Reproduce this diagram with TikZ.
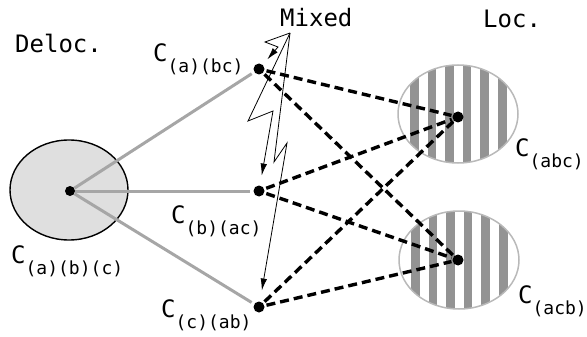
\documentclass[tikz,border=0pt]{standalone}
\usepackage{fontspec}
\newfontfamily\labfont{DejaVu Sans Mono}
\usetikzlibrary{positioning}
\usetikzlibrary{calc}
\usetikzlibrary{arrows.meta}
\usetikzlibrary{shapes.geometric}

\newcommand{\clab}[1]{C\raisebox{-11pt}{\fontsize{18}{18}\selectfont #1}}

\tikzset{
  dot/.style={circle,fill=black,inner sep=0pt,minimum size=11pt},
  grayline/.style={gray!70,line width=3pt,shorten >=3pt},
  dashline/.style={black,line width=3.4pt,dash pattern=on 9pt off 5pt,shorten <=2pt,shorten >=1pt},
  zig/.style={-{Latex[length=12pt,width=6.5pt]},line width=0.8pt},
  stripes/.style={ellipse,draw=gray!55,line width=1.5pt,minimum width=120pt,minimum height=98pt,
    path picture={\foreach \k in {0,...,5}
      \fill[gray!85] ($(path picture bounding box.center)+(\k*17.6-48,-60)$) rectangle ++(8.5,120);}}
}

\begin{document}
\begin{tikzpicture}[x=1pt,y=-1pt, every node/.style={font=\labfont\fontsize{24}{24}\selectfont,inner sep=0pt}]
\useasboundingbox (0,0) rectangle (587,337);

% regions
\node[ellipse,draw,line width=1.4pt,fill=gray!25,minimum width=118pt,minimum height=100pt] (deloc) at (69,190) {};
\node[stripes] (locA) at (458,114) {};
\node[stripes] (locB) at (459,260) {};

% configurations
\node[dot,minimum size=10pt] (d0) at (70,191) {};
\node[dot] (mA) at (259,69) {};
\node[dot] (mB) at (259,191) {};
\node[dot] (mC) at (259,307) {};
\node[dot] (lA) at (458,117) {};
\node[dot] (lB) at (458,260) {};

% headings
\node[anchor=base west] (hdeloc) at (15,53) {Deloc.};
\node[anchor=base west] (hmixed) at (280,27) {Mixed};
\node[anchor=base west] (hloc) at (483,28) {Loc.};
\coordinate (mixtip) at (290,33);

% labels
\node[anchor=base west] (tA) at (153,62) {\clab{(a)(bc)}};
\node[anchor=base west] (tB) at (171,223) {\clab{(b)(ac)}};
\node[anchor=base west] (tC) at (161,317) {\clab{(c)(ab)}};
\node[anchor=base west] (t0) at (11,263) {\clab{(a)(b)(c)}};
\node[anchor=base west] (tlA) at (515,157) {\clab{(abc)}};
\node[anchor=base west] (tlB) at (518,303) {\clab{(acb)}};

% connectors
\foreach \m in {mA,mB,mC}
  \draw[grayline] (d0) -- (\m);
\foreach \m in {mA,mB,mC}
  \foreach \l in {lA,lB}
    \draw[dashline] (\m) -- (\l);

\draw[zig,shorten >=7pt] (mixtip) -- (265,42) -- (278,47) -- (mA);
\draw[zig,shorten >=10pt] (mixtip) -- (248,121) -- (273,111) -- (mB);
\draw[zig,shorten >=11pt] (mixtip) -- (274,162) -- (287,143) -- (mC);
\end{tikzpicture}
\end{document}
